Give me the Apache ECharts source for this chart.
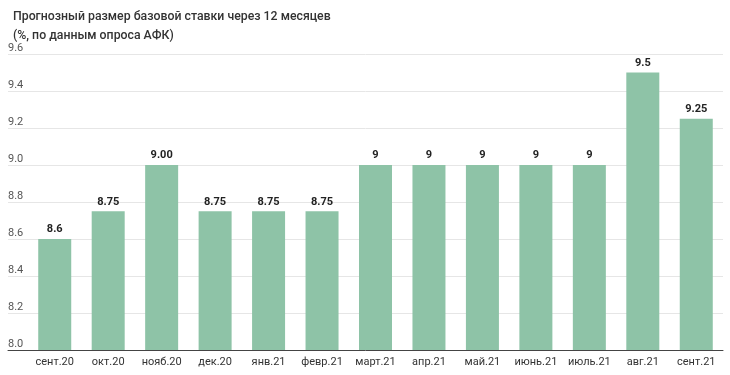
<!DOCTYPE html>
<html><head><meta charset="utf-8">
<script src="https://cdn.jsdelivr.net/npm/echarts@6/dist/echarts.min.js"></script>
<style>html,body{margin:0;padding:0;background:#fff}#c{width:730px;height:375px}</style>
</head><body><div id="c"></div>
<script>
const categories = ['сент.20','окт.20','нояб.20','дек.20','янв.21','февр.21','март.21','апр.21','май.21','июнь.21','июль.21','авг.21','сент.21'];
const values = [8.6, 8.75, 9.0, 8.75, 8.75, 8.75, 9, 9, 9, 9, 9, 9.5, 9.25];
const valueLabels = ['8.6','8.75','9.00','8.75','8.75','8.75','9','9','9','9','9','9.5','9.25'];
const yTicks = {min: 8.0, max: 9.6, interval: 0.2};

const chart = echarts.init(document.getElementById('c'));
const font = 'Roboto, "Noto Sans", sans-serif';
chart.setOption({
  animation: false,
  textStyle: {fontFamily: font},
  title: {
    text: 'Прогнозный размер базовой ставки через 12 месяцев\n(%, по данным опроса АФК)',
    left: 8, top: 2,
    textStyle: {fontSize: 12.3, fontWeight: 500, color: '#333', lineHeight: 19, fontFamily: font}
  },
  grid: [
    {left: 8, right: 7, top: 54, bottom: 25},
    {left: 28, right: 7, top: 54, bottom: 25}
  ],
  xAxis: [
    {gridIndex: 0, type: 'value', min: 0, max: 1, axisLabel: {show: false}, axisTick: {show: false},
     splitLine: {show: false}, axisLine: {show: true, lineStyle: {color: '#444', width: 1}}},
    {gridIndex: 1, type: 'category', data: categories, axisLine: {show: false}, axisTick: {show: false},
     axisLabel: {color: '#333', fontSize: 11, margin: 7, interval: 0, fontFamily: font}}
  ],
  yAxis: [
    {gridIndex: 0, type: 'value', min: yTicks.min, max: yTicks.max, interval: yTicks.interval,
     axisLine: {show: false}, axisTick: {show: false},
     axisLabel: {inside: true, verticalAlign: 'bottom', margin: 0, color: '#555', fontSize: 11, fontFamily: font,
       formatter: v => v.toFixed(1)},
     splitLine: {lineStyle: {color: '#e6e6e6'}}},
    {gridIndex: 1, type: 'value', min: yTicks.min, max: yTicks.max, interval: yTicks.interval,
     show: false, splitLine: {show: false}}
  ],
  series: [{
    type: 'bar', xAxisIndex: 1, yAxisIndex: 1,
    data: values, barWidth: 33,
    itemStyle: {color: '#8ec3a7'},
    label: {show: true, position: 'top', distance: 4, color: '#222', fontWeight: 'bold', fontSize: 11,
      fontFamily: font, formatter: p => valueLabels[p.dataIndex]}
  }]
});
</script></body></html>
